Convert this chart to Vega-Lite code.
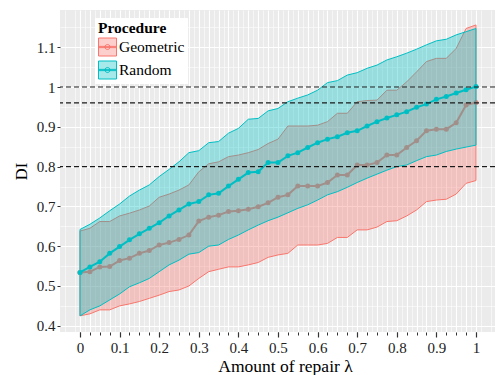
{
  "$schema": "https://vega.github.io/schema/vega-lite/v6.json",
  "width": 435,
  "height": 322,
  "autosize": {"type": "none"},
  "padding": {"left": 60, "top": 10, "right": 0, "bottom": 43},
  "background": "white",
  "config": {
    "view": {"fill": "#EBEBEB", "stroke": null},
    "font": "Liberation Serif"
  },
  "datasets": {
    "d": [
      {"lambda": 0, "procedure": "Geometric", "mean": 0.534, "lo": 0.425, "hi": 0.638},
      {"lambda": 0.025, "procedure": "Geometric", "mean": 0.536, "lo": 0.430, "hi": 0.645},
      {"lambda": 0.05, "procedure": "Geometric", "mean": 0.548, "lo": 0.440, "hi": 0.662},
      {"lambda": 0.075, "procedure": "Geometric", "mean": 0.549, "lo": 0.440, "hi": 0.662},
      {"lambda": 0.1, "procedure": "Geometric", "mean": 0.564, "lo": 0.450, "hi": 0.676},
      {"lambda": 0.125, "procedure": "Geometric", "mean": 0.570, "lo": 0.455, "hi": 0.683},
      {"lambda": 0.15, "procedure": "Geometric", "mean": 0.582, "lo": 0.461, "hi": 0.691},
      {"lambda": 0.175, "procedure": "Geometric", "mean": 0.589, "lo": 0.469, "hi": 0.701},
      {"lambda": 0.2, "procedure": "Geometric", "mean": 0.603, "lo": 0.477, "hi": 0.723},
      {"lambda": 0.225, "procedure": "Geometric", "mean": 0.609, "lo": 0.486, "hi": 0.731},
      {"lambda": 0.25, "procedure": "Geometric", "mean": 0.617, "lo": 0.490, "hi": 0.741},
      {"lambda": 0.275, "procedure": "Geometric", "mean": 0.628, "lo": 0.500, "hi": 0.754},
      {"lambda": 0.3, "procedure": "Geometric", "mean": 0.663, "lo": 0.519, "hi": 0.787},
      {"lambda": 0.325, "procedure": "Geometric", "mean": 0.673, "lo": 0.536, "hi": 0.807},
      {"lambda": 0.35, "procedure": "Geometric", "mean": 0.678, "lo": 0.542, "hi": 0.812},
      {"lambda": 0.375, "procedure": "Geometric", "mean": 0.687, "lo": 0.548, "hi": 0.825},
      {"lambda": 0.4, "procedure": "Geometric", "mean": 0.689, "lo": 0.548, "hi": 0.829},
      {"lambda": 0.425, "procedure": "Geometric", "mean": 0.693, "lo": 0.553, "hi": 0.835},
      {"lambda": 0.45, "procedure": "Geometric", "mean": 0.699, "lo": 0.559, "hi": 0.843},
      {"lambda": 0.475, "procedure": "Geometric", "mean": 0.709, "lo": 0.572, "hi": 0.858},
      {"lambda": 0.5, "procedure": "Geometric", "mean": 0.723, "lo": 0.578, "hi": 0.869},
      {"lambda": 0.525, "procedure": "Geometric", "mean": 0.729, "lo": 0.582, "hi": 0.902},
      {"lambda": 0.55, "procedure": "Geometric", "mean": 0.751, "lo": 0.603, "hi": 0.902},
      {"lambda": 0.575, "procedure": "Geometric", "mean": 0.751, "lo": 0.603, "hi": 0.902},
      {"lambda": 0.6, "procedure": "Geometric", "mean": 0.751, "lo": 0.603, "hi": 0.904},
      {"lambda": 0.625, "procedure": "Geometric", "mean": 0.760, "lo": 0.607, "hi": 0.913},
      {"lambda": 0.65, "procedure": "Geometric", "mean": 0.779, "lo": 0.622, "hi": 0.934},
      {"lambda": 0.675, "procedure": "Geometric", "mean": 0.779, "lo": 0.622, "hi": 0.934},
      {"lambda": 0.7, "procedure": "Geometric", "mean": 0.804, "lo": 0.641, "hi": 0.963},
      {"lambda": 0.725, "procedure": "Geometric", "mean": 0.804, "lo": 0.641, "hi": 0.966},
      {"lambda": 0.75, "procedure": "Geometric", "mean": 0.810, "lo": 0.648, "hi": 0.967},
      {"lambda": 0.775, "procedure": "Geometric", "mean": 0.829, "lo": 0.662, "hi": 0.992},
      {"lambda": 0.8, "procedure": "Geometric", "mean": 0.829, "lo": 0.664, "hi": 0.992},
      {"lambda": 0.825, "procedure": "Geometric", "mean": 0.848, "lo": 0.676, "hi": 1.013},
      {"lambda": 0.85, "procedure": "Geometric", "mean": 0.865, "lo": 0.691, "hi": 1.038},
      {"lambda": 0.875, "procedure": "Geometric", "mean": 0.890, "lo": 0.712, "hi": 1.064},
      {"lambda": 0.9, "procedure": "Geometric", "mean": 0.894, "lo": 0.716, "hi": 1.072},
      {"lambda": 0.925, "procedure": "Geometric", "mean": 0.894, "lo": 0.718, "hi": 1.072},
      {"lambda": 0.95, "procedure": "Geometric", "mean": 0.910, "lo": 0.731, "hi": 1.097},
      {"lambda": 0.975, "procedure": "Geometric", "mean": 0.955, "lo": 0.758, "hi": 1.147},
      {"lambda": 1, "procedure": "Geometric", "mean": 0.961, "lo": 0.765, "hi": 1.156},
      {"lambda": 0, "procedure": "Random", "mean": 0.534, "lo": 0.425, "hi": 0.642},
      {"lambda": 0.025, "procedure": "Random", "mean": 0.548, "lo": 0.440, "hi": 0.655},
      {"lambda": 0.05, "procedure": "Random", "mean": 0.561, "lo": 0.450, "hi": 0.671},
      {"lambda": 0.075, "procedure": "Random", "mean": 0.582, "lo": 0.465, "hi": 0.689},
      {"lambda": 0.1, "procedure": "Random", "mean": 0.599, "lo": 0.480, "hi": 0.706},
      {"lambda": 0.125, "procedure": "Random", "mean": 0.616, "lo": 0.498, "hi": 0.726},
      {"lambda": 0.15, "procedure": "Random", "mean": 0.631, "lo": 0.508, "hi": 0.741},
      {"lambda": 0.175, "procedure": "Random", "mean": 0.645, "lo": 0.519, "hi": 0.754},
      {"lambda": 0.2, "procedure": "Random", "mean": 0.659, "lo": 0.536, "hi": 0.775},
      {"lambda": 0.225, "procedure": "Random", "mean": 0.676, "lo": 0.553, "hi": 0.793},
      {"lambda": 0.25, "procedure": "Random", "mean": 0.691, "lo": 0.565, "hi": 0.812},
      {"lambda": 0.275, "procedure": "Random", "mean": 0.706, "lo": 0.580, "hi": 0.835},
      {"lambda": 0.3, "procedure": "Random", "mean": 0.712, "lo": 0.584, "hi": 0.840},
      {"lambda": 0.325, "procedure": "Random", "mean": 0.729, "lo": 0.600, "hi": 0.860},
      {"lambda": 0.35, "procedure": "Random", "mean": 0.733, "lo": 0.603, "hi": 0.863},
      {"lambda": 0.375, "procedure": "Random", "mean": 0.751, "lo": 0.617, "hi": 0.884},
      {"lambda": 0.4, "procedure": "Random", "mean": 0.768, "lo": 0.628, "hi": 0.896},
      {"lambda": 0.425, "procedure": "Random", "mean": 0.785, "lo": 0.641, "hi": 0.919},
      {"lambda": 0.45, "procedure": "Random", "mean": 0.787, "lo": 0.653, "hi": 0.921},
      {"lambda": 0.475, "procedure": "Random", "mean": 0.810, "lo": 0.664, "hi": 0.940},
      {"lambda": 0.5, "procedure": "Random", "mean": 0.810, "lo": 0.673, "hi": 0.946},
      {"lambda": 0.525, "procedure": "Random", "mean": 0.827, "lo": 0.684, "hi": 0.963},
      {"lambda": 0.55, "procedure": "Random", "mean": 0.835, "lo": 0.695, "hi": 0.972},
      {"lambda": 0.575, "procedure": "Random", "mean": 0.848, "lo": 0.704, "hi": 0.980},
      {"lambda": 0.6, "procedure": "Random", "mean": 0.860, "lo": 0.716, "hi": 0.992},
      {"lambda": 0.625, "procedure": "Random", "mean": 0.869, "lo": 0.729, "hi": 1.011},
      {"lambda": 0.65, "procedure": "Random", "mean": 0.875, "lo": 0.737, "hi": 1.016},
      {"lambda": 0.675, "procedure": "Random", "mean": 0.885, "lo": 0.748, "hi": 1.030},
      {"lambda": 0.7, "procedure": "Random", "mean": 0.890, "lo": 0.760, "hi": 1.036},
      {"lambda": 0.725, "procedure": "Random", "mean": 0.902, "lo": 0.771, "hi": 1.047},
      {"lambda": 0.75, "procedure": "Random", "mean": 0.913, "lo": 0.781, "hi": 1.055},
      {"lambda": 0.775, "procedure": "Random", "mean": 0.922, "lo": 0.791, "hi": 1.068},
      {"lambda": 0.8, "procedure": "Random", "mean": 0.930, "lo": 0.800, "hi": 1.076},
      {"lambda": 0.825, "procedure": "Random", "mean": 0.938, "lo": 0.804, "hi": 1.085},
      {"lambda": 0.85, "procedure": "Random", "mean": 0.949, "lo": 0.815, "hi": 1.095},
      {"lambda": 0.875, "procedure": "Random", "mean": 0.957, "lo": 0.825, "hi": 1.106},
      {"lambda": 0.9, "procedure": "Random", "mean": 0.969, "lo": 0.829, "hi": 1.116},
      {"lambda": 0.925, "procedure": "Random", "mean": 0.976, "lo": 0.838, "hi": 1.120},
      {"lambda": 0.95, "procedure": "Random", "mean": 0.985, "lo": 0.844, "hi": 1.131},
      {"lambda": 0.975, "procedure": "Random", "mean": 0.993, "lo": 0.849, "hi": 1.139},
      {"lambda": 1, "procedure": "Random", "mean": 1.001, "lo": 0.854, "hi": 1.147}
    ],
    "h": [{"y": 1}, {"y": 0.96}, {"y": 0.8}]
  },
  "data": {"name": "d"},
  "layer": [
    {
      "transform": [{"filter": "datum.procedure === 'Geometric'"}],
      "mark": {"type": "area", "strokeWidth": 1},
      "encoding": {
        "x": {"field": "lambda", "type": "quantitative",
          "scale": {"domain": [-0.0505, 1.048], "nice": false, "zero": false},
          "axis": {"orient": "bottom", "values": [-0.0375,-0.0125,0.0125,0.0375,0.0625,0.0875,0.1125,0.1375,0.1625,0.1875,0.2125,0.2375,0.2625,0.2875,0.3125,0.3375,0.3625,0.3875,0.4125,0.4375,0.4625,0.4875,0.5125,0.5375,0.5625,0.5875,0.6125,0.6375,0.6625,0.6875,0.7125,0.7375,0.7625,0.7875,0.8125,0.8375,0.8625,0.8875,0.9125,0.9375,0.9625,0.9875,1.0125,1.0375],
            "grid": true, "gridColor": "#FFFFFF", "gridWidth": 0.55, "ticks": false, "labels": false, "domain": false, "title": null}},
        "y": {"field": "lo", "type": "quantitative",
          "scale": {"domain": [0.3844, 1.1935], "nice": false, "zero": false},
          "axis": {"orient": "left", "values": [0.45, 0.55, 0.65, 0.75, 0.85, 0.95, 1.05, 1.15],
            "grid": true, "gridColor": "#FFFFFF", "gridWidth": 0.55, "ticks": false, "labels": false, "domain": false, "title": null}},
        "y2": {"field": "hi"},
        "fill": {"field": "procedure", "type": "nominal",
          "scale": {"domain": ["Geometric", "Random"], "range": ["rgba(248,118,109,0.35)", "rgba(0,191,196,0.35)"]},
          "legend": {
            "orient": "none", "legendX": 35, "legendY": 8,
            "title": "Procedure", "titleFontWeight": "bold", "titleFontSize": 15.5, "titleColor": "black", "titlePadding": 1,
            "fillColor": "white", "padding": 3,
            "labelFontSize": 15.5, "labelColor": "black", "labelOffset": 2,
            "symbolType": "M-1,-1L1,-1L1,1L-1,1Z M-1,-0.07L1,-0.07L1,0.07L-1,0.07Z M0.28,0A0.28,0.28,0,1,1,-0.28,0A0.28,0.28,0,1,1,0.28,0Z",
            "symbolSize": 324, "symbolStrokeWidth": 1, "rowPadding": 0
          }},
        "stroke": {"field": "procedure", "type": "nominal",
          "scale": {"domain": ["Geometric", "Random"], "range": ["#F8766D", "#00BFC4"]},
          "legend": {
            "orient": "none", "legendX": 35, "legendY": 8,
            "title": "Procedure", "titleFontWeight": "bold", "titleFontSize": 15.5, "titleColor": "black", "titlePadding": 1,
            "fillColor": "white", "padding": 3,
            "labelFontSize": 15.5, "labelColor": "black", "labelOffset": 2,
            "symbolType": "M-1,-1L1,-1L1,1L-1,1Z M-1,-0.07L1,-0.07L1,0.07L-1,0.07Z M0.28,0A0.28,0.28,0,1,1,-0.28,0A0.28,0.28,0,1,1,0.28,0Z",
            "symbolSize": 324, "symbolStrokeWidth": 1, "rowPadding": 0
          }}
      }
    },
    {
      "transform": [{"filter": "datum.procedure === 'Geometric'"}],
      "mark": {"type": "line", "strokeWidth": 2},
      "encoding": {
        "x": {"field": "lambda", "type": "quantitative",
          "scale": {"domain": [-0.0505, 1.048], "nice": false, "zero": false},
          "axis": {"orient": "bottom", "values": [0,0.025,0.05,0.075,0.1,0.125,0.15,0.175,0.2,0.225,0.25,0.275,0.3,0.325,0.35,0.375,0.4,0.425,0.45,0.475,0.5,0.525,0.55,0.575,0.6,0.625,0.65,0.675,0.7,0.725,0.75,0.775,0.8,0.825,0.85,0.875,0.9,0.925,0.95,0.975,1],
            "grid": true, "gridColor": "#FFFFFF", "gridWidth": 1.1, "ticks": true, "tickSize": 3, "tickColor": "#333333", "tickWidth": 1,
            "labels": false, "domain": false, "title": null}},
        "y": {"field": "mean", "type": "quantitative",
          "scale": {"domain": [0.3844, 1.1935], "nice": false, "zero": false},
          "axis": {"orient": "left", "values": [0.4, 0.5, 0.6, 0.7, 0.8, 0.9, 1, 1.1], "format": "~g",
            "grid": true, "gridColor": "#FFFFFF", "gridWidth": 1.1, "ticks": true, "tickSize": 3, "tickColor": "#333333", "tickWidth": 1,
            "labelFontSize": 15, "labelColor": "#222222", "labelPadding": 2, "domain": false,
            "title": "DI", "titleFontSize": 16.5, "titleFontWeight": "normal", "titleColor": "black", "titlePadding": 7}},
        "stroke": {"field": "procedure", "type": "nominal", "scale": {"domain": ["Geometric", "Random"], "range": ["#F8766D", "#00BFC4"]}, "legend": null}
      }
    },
    {
      "transform": [{"filter": "datum.procedure === 'Geometric'"}],
      "mark": {"type": "point", "filled": true, "size": 25, "opacity": 1},
      "encoding": {
        "x": {"field": "lambda", "type": "quantitative",
          "scale": {"domain": [-0.0505, 1.048], "nice": false, "zero": false},
          "axis": {"orient": "bottom", "values": [0, 0.1, 0.2, 0.3, 0.4, 0.5, 0.6, 0.7, 0.8, 0.9, 1], "format": "~g",
            "grid": false, "ticks": true, "tickSize": 5, "tickColor": "#333333", "tickWidth": 1.2,
            "labelFontSize": 15, "labelColor": "#222222", "labelPadding": 3, "domain": false,
            "title": "Amount of repair λ", "titleFontSize": 17.5, "titleFontWeight": "normal", "titleColor": "black", "titlePadding": 2, "titleX": 225}},
        "y": {"field": "mean", "type": "quantitative",
          "scale": {"domain": [0.3844, 1.1935], "nice": false, "zero": false}, "axis": null},
        "color": {"field": "procedure", "type": "nominal", "scale": {"domain": ["Geometric", "Random"], "range": ["#F8766D", "#00BFC4"]}, "legend": null}
      }
    },
    {
      "transform": [{"filter": "datum.procedure === 'Random'"}],
      "mark": {"type": "area", "strokeWidth": 1},
      "encoding": {
        "x": {"field": "lambda", "type": "quantitative",
          "scale": {"domain": [-0.0505, 1.048], "nice": false, "zero": false}, "axis": null},
        "y": {"field": "lo", "type": "quantitative",
          "scale": {"domain": [0.3844, 1.1935], "nice": false, "zero": false}, "axis": null},
        "y2": {"field": "hi"},
        "fill": {"field": "procedure", "type": "nominal", "scale": {"domain": ["Geometric", "Random"], "range": ["rgba(248,118,109,0.35)", "rgba(0,191,196,0.35)"]}, "legend": null},
        "stroke": {"field": "procedure", "type": "nominal", "scale": {"domain": ["Geometric", "Random"], "range": ["#F8766D", "#00BFC4"]}, "legend": null}
      }
    },
    {
      "transform": [{"filter": "datum.procedure === 'Random'"}],
      "mark": {"type": "line", "strokeWidth": 2},
      "encoding": {
        "x": {"field": "lambda", "type": "quantitative",
          "scale": {"domain": [-0.0505, 1.048], "nice": false, "zero": false}, "axis": null},
        "y": {"field": "mean", "type": "quantitative",
          "scale": {"domain": [0.3844, 1.1935], "nice": false, "zero": false}, "axis": null},
        "stroke": {"field": "procedure", "type": "nominal", "scale": {"domain": ["Geometric", "Random"], "range": ["#F8766D", "#00BFC4"]}, "legend": null}
      }
    },
    {
      "transform": [{"filter": "datum.procedure === 'Random'"}],
      "mark": {"type": "point", "filled": true, "size": 25, "opacity": 1},
      "encoding": {
        "x": {"field": "lambda", "type": "quantitative",
          "scale": {"domain": [-0.0505, 1.048], "nice": false, "zero": false}, "axis": null},
        "y": {"field": "mean", "type": "quantitative",
          "scale": {"domain": [0.3844, 1.1935], "nice": false, "zero": false}, "axis": null},
        "color": {"field": "procedure", "type": "nominal", "scale": {"domain": ["Geometric", "Random"], "range": ["#F8766D", "#00BFC4"]}, "legend": null}
      }
    },
    {
      "data": {"name": "h"},
      "mark": {"type": "rule", "color": "#1a1a1a", "strokeWidth": 1.2, "strokeDash": [5, 3]},
      "encoding": {
        "y": {"field": "y", "type": "quantitative",
          "scale": {"domain": [0.3844, 1.1935], "nice": false, "zero": false}, "axis": null}
      }
    }
  ],
  "resolve": {"axis": {"x": "independent", "y": "independent"}}
}
